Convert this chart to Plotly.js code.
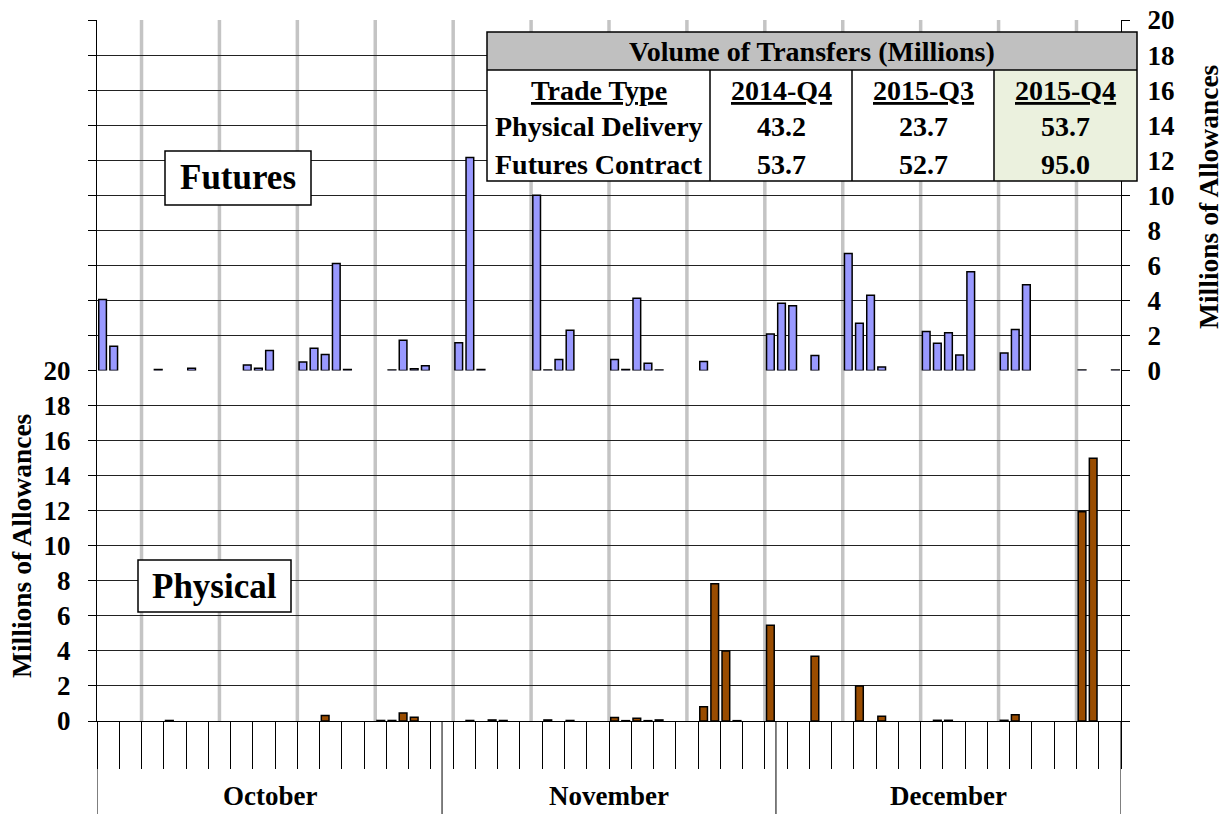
<!DOCTYPE html>
<html>
<head>
<meta charset="utf-8">
<script src="https://cdn.plot.ly/plotly-3.0.1.min.js"></script>
<style>html,body{margin:0;padding:0;background:#fff;}#chart{width:1225px;height:814px;}</style>
</head>
<body>
<div id="chart"></div>
<script>
// ---- data ----
const months = ['October', 'November', 'December'];
const monthShort = ['Oct', 'Nov', 'Dec'];
const monthDays = [31, 30, 31];
const days = [];
monthShort.forEach((m, k) => { for (let d = 1; d <= monthDays[k]; d++) days.push(m + ' ' + d); });

// Futures contract transfers (millions), one entry per day Oct 1 .. Dec 31
const futures = [
  4.05, 1.38, null, null, null, 0.05, null, null, 0.13, null,
  null, null, null, 0.32, 0.13, 1.14, null, null, 0.48, 1.27,
  0.91, 6.10, 0.05, null, null, null, 0.03, 1.73, 0.10, 0.27,
  null, null, 1.58, 12.15, 0.05, null, null, null, null, 10.00,
  0.03, 0.63, 2.30, null, null, null, 0.63, 0.05, 4.12, 0.42,
  0.03, null, null, null, 0.51, null, null, null, null, null,
  2.08, 3.84, 3.69, null, 0.85, null, null, 6.67, 2.70, 4.29,
  0.20, null, null, null, 2.22, 1.56, 2.15, 0.89, 5.64, null,
  null, 1.00, 2.34, 4.90, null, null, null, null, 0.03, null,
  null, 0.03
];
// Physical delivery transfers (millions)
const physical = [
  null, null, null, null, null, null, 0.03, null, null, null,
  null, null, null, null, null, null, null, null, null, null,
  0.32, null, null, null, null, 0.03, 0.03, 0.45, 0.22, null,
  null, null, null, 0.03, null, 0.06, 0.03, null, null, null,
  0.06, null, 0.03, null, null, null, 0.20, 0.02, 0.15, 0.02,
  0.06, null, null, null, 0.82, 7.83, 4.00, 0.02, null, null,
  5.46, null, null, null, 3.70, null, null, null, 2.00, null,
  0.27, null, null, null, null, 0.04, 0.04, null, null, null,
  null, 0.04, 0.36, null, null, null, null, null, 11.94, 15.00,
  null, null
];
const yTicks = [0, 2, 4, 6, 8, 10, 12, 14, 16, 18, 20];
const tableTitle = 'Volume of Transfers (Millions)';
const tableCols = ['Trade Type', '2014-Q4', '2015-Q3', '2015-Q4'];
const tableRowNames = ['Physical Delivery', 'Futures Contract'];
const tablePhysical = ['43.2', '23.7', '53.7'];
const tableFutures = ['53.7', '52.7', '95.0'];

// ---- layout helpers ----
const L = 97, R = 1121, T = 20, B = 721;
const px = x => (x - L) / (R - L);
const py = y => (B - y) / (B - T);
const FONT = 'Liberation Serif, Times New Roman, serif';

const shapes = [];
const annotations = [];

// weekly grey separators (Monday boundaries)
for (let i = 3.5; i < days.length; i += 7) {
  shapes.push({type: 'line', xref: 'x', yref: 'paper', x0: i, x1: i, y0: 0, y1: 1,
    line: {color: '#c4c4c4', width: 3.5}, layer: 'below'});
}
// month separators below the axis
let acc = -0.5;
const monthBounds = [acc];
monthDays.forEach(n => { acc += n; monthBounds.push(acc); });
monthBounds.forEach(b => {
  shapes.push({type: 'line', xref: 'x', yref: 'paper', x0: b, x1: b, y0: 0, y1: py(814),
    line: {color: '#000', width: 1}});
});
months.forEach((m, k) => {
  annotations.push({xref: 'x', yref: 'paper', x: (monthBounds[k] + monthBounds[k + 1]) / 2, y: py(796),
    text: '<b>' + m + '</b>', showarrow: false, font: {family: FONT, size: 27, color: '#000'},
    xanchor: 'center', yanchor: 'middle'});
});

// axis titles
annotations.push({xref: 'paper', yref: 'paper', x: px(21), y: py(546), textangle: -90,
  text: '<b>Millions of Allowances</b>', showarrow: false, font: {family: FONT, size: 27.5, color: '#000'},
  xanchor: 'center', yanchor: 'middle'});
annotations.push({xref: 'paper', yref: 'paper', x: px(1209), y: py(197), textangle: -90,
  text: '<b>Millions of Allowances</b>', showarrow: false, font: {family: FONT, size: 27.5, color: '#000'},
  xanchor: 'center', yanchor: 'middle'});

// panel label boxes
function box(x0, x1, y0, y1, text, size) {
  shapes.push({type: 'rect', xref: 'paper', yref: 'paper', x0: px(x0), x1: px(x1), y0: py(y1), y1: py(y0),
    fillcolor: '#fff', line: {color: '#000', width: 1.5}, layer: 'above'});
  annotations.push({xref: 'paper', yref: 'paper', x: px((x0 + x1) / 2), y: py((y0 + y1) / 2),
    text: '<b>' + text + '</b>', showarrow: false, font: {family: FONT, size: size, color: '#000'},
    xanchor: 'center', yanchor: 'middle'});
}
box(165, 311, 151, 205, 'Futures', 35);
box(138, 291, 560, 612, 'Physical', 35);

// summary table
const tX = [487, 710, 852, 994, 1137];
const tY0 = 32, tYh = 70, tY1 = 181;
const rect = (x0, x1, y0, y1, fill, line) => shapes.push({type: 'rect', xref: 'paper', yref: 'paper',
  x0: px(x0), x1: px(x1), y0: py(y1), y1: py(y0), fillcolor: fill, line: line || {width: 0}, layer: 'above'});
const seg = (x0, y0, x1, y1) => shapes.push({type: 'line', xref: 'paper', yref: 'paper',
  x0: px(x0), x1: px(x1), y0: py(y0), y1: py(y1), line: {color: '#000', width: 1.5}, layer: 'above'});
rect(tX[0], tX[4], tYh, tY1, '#ffffff');
rect(tX[3], tX[4], tYh, tY1, '#EBF1DE');
rect(tX[0], tX[4], tY0, tYh, '#C0C0C0');
seg(tX[0], tYh, tX[4], tYh);
for (let c = 1; c < 4; c++) seg(tX[c], tYh, tX[c], tY1);
shapes.push({type: 'rect', xref: 'paper', yref: 'paper', x0: px(tX[0]), x1: px(tX[4]), y0: py(tY1), y1: py(tY0),
  line: {color: '#000', width: 1.5}, layer: 'above'});
const tText = (x, y, t, size) => annotations.push({xref: 'paper', yref: 'paper', x: px(x), y: py(y),
  text: t, showarrow: false, font: {family: FONT, size: size || 28, color: '#000'}, xanchor: 'center', yanchor: 'middle'});
tText((tX[0] + tX[4]) / 2, 51, '<b>' + tableTitle + '</b>', 28);
const rowY = [90, 127, 164];
for (let c = 0; c < 4; c++) {
  const cx = (tX[c] + tX[c + 1]) / 2;
  tText(cx, rowY[0], '<b><u>' + tableCols[c] + '</u></b>');
  if (c === 0) {
    tText(cx, rowY[1], '<b>' + tableRowNames[0] + '</b>');
    tText(cx, rowY[2], '<b>' + tableRowNames[1] + '</b>');
  } else {
    tText(cx, rowY[1], '<b>' + tablePhysical[c - 1] + '</b>');
    tText(cx, rowY[2], '<b>' + tableFutures[c - 1] + '</b>');
  }
}

const tickFont = {family: FONT, size: 27, color: '#000', weight: 'bold'};
const traces = [
  {type: 'bar', x: days, y: physical, xaxis: 'x', yaxis: 'y', name: 'Physical',
    marker: {color: '#994C00', line: {color: '#000', width: 1.5}}, hoverinfo: 'x+y'},
  {type: 'bar', x: days, y: futures, xaxis: 'x', yaxis: 'y2', name: 'Futures',
    marker: {color: '#9999FF', line: {color: '#000', width: 1.5}}, hoverinfo: 'x+y'}
];

const layout = {
  width: 1225, height: 814,
  margin: {l: L, r: 1225 - R, t: T, b: 814 - B, pad: 0},
  paper_bgcolor: '#fff', plot_bgcolor: '#fff',
  showlegend: false, barmode: 'overlay', bargap: 0.31,
  xaxis: {type: 'category', range: [-0.5, days.length - 0.5], showticklabels: false,
    ticks: 'outside', tickson: 'boundaries', ticklen: 47, tickcolor: '#000', tickwidth: 1,
    showgrid: false, showline: true, linecolor: '#000', linewidth: 1, anchor: 'y', fixedrange: true},
  yaxis: {domain: [0, 0.5], range: [0, 20], tickvals: yTicks, ticktext: yTicks.map(String),
    showgrid: true, gridcolor: '#222', gridwidth: 1, zeroline: false,
    showline: true, linecolor: '#000', linewidth: 1, mirror: 'ticks',
    ticks: 'outside', ticklen: 8, tickcolor: '#000', tickfont: tickFont, ticklabelstandoff: 12, side: 'left'},
  yaxis2: {domain: [0.5, 1], range: [0, 20], tickvals: yTicks, ticktext: yTicks.map(String),
    showgrid: true, gridcolor: '#222', gridwidth: 1, zeroline: false, anchor: 'x',
    showline: true, linecolor: '#000', linewidth: 1, mirror: 'ticks',
    ticks: 'outside', ticklen: 8, tickcolor: '#000', tickfont: tickFont, ticklabelstandoff: 12, side: 'right'},
  shapes: shapes,
  annotations: annotations
};

Plotly.newPlot('chart', traces, layout, {displayModeBar: false, staticPlot: true});
</script>
</body>
</html>
